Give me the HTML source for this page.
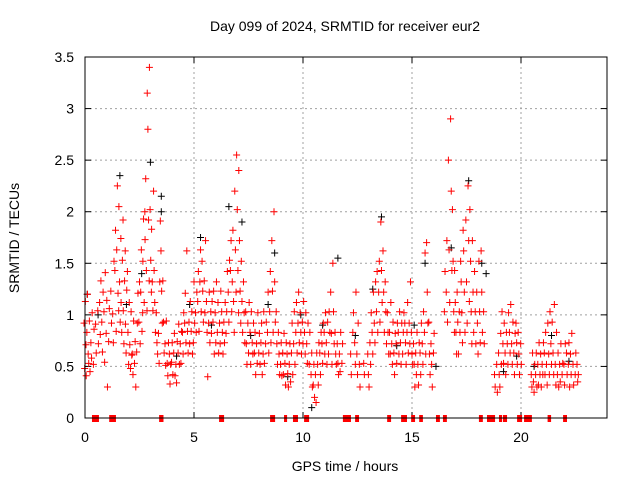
<!DOCTYPE html>
<html><head><meta charset="utf-8"><style>
body{margin:0;background:#fff}
svg{display:block;font-family:"Liberation Sans",sans-serif}
</style></head><body>
<svg id="chart" width="640" height="480" viewBox="0 0 640 480" xmlns="http://www.w3.org/2000/svg">
<rect width="640" height="480" fill="#fff"/>
<text x="345" y="31" font-size="14" text-anchor="middle">Day 099 of 2024, SRMTID for receiver eur2</text>
<text x="345" y="471" font-size="14" text-anchor="middle">GPS time / hours</text>
<text transform="translate(19,238) rotate(-90)" font-size="14" text-anchor="middle">SRMTID / TECUs</text>
<g id="grid"></g>
<g id="ticks"></g>
<g id="black-series"></g>
<g id="red-series"></g>
<g id="gaps"></g>
<rect x="85" y="57" width="522" height="361" fill="none" stroke="#000" stroke-width="1"/>
</svg>
<script>
const xTicks=[0,5,10,15,20];
const yTicks=[0,0.5,1,1.5,2,2.5,3,3.5];
const yTickLabels=["0","0.5","1","1.5","2","2.5","3","3.5"];
const redSeries=[
[0.0,[.92,.48,1.13,.71]],[0.1,[.41,.83,1.2,.62]],[0.2,[.53,.94,.45]],[0.3,[.73,.58,1.02]],[0.4,[.52,.86]],[0.5,[.91,.63]],[0.6,[1.04,.72]],[0.7,[1.12,.81,1.33]],[0.8,[.93,.64,1.22]],[0.9,[1.03,.54,1.41]],
[1.0,[.82,1.14,.3]],[1.1,[.74,1.06]],[1.2,[1.23,.92]],[1.3,[1.01,.73,1.52]],[1.4,[1.43,1.82,.84]],[1.5,[1.63,2.25,1.21,1.04]],[1.6,[2.05,1.32,.93,1.74]],[1.7,[1.12,.83,1.53,1.92]],[1.8,[1.04,.72,1.33,1.62]],[1.9,[.91,.63,1.24,1.42]],
[2.0,[.83,.52,1.12]],[2.1,[.71,.48,1.03,.61]],[2.2,[.62,.42,.94]],[2.3,[.53,.74,.3]],[2.4,[.64,.92,1.21]],[2.5,[.93,1.32,.72]],[2.6,[1.22,1.63,.84,1.02]],[2.7,[1.52,1.93,1.12,2.0]],[2.8,[1.73,2.32,1.43,1.04]],[2.9,[3.15,2.8,1.92,1.33]],
[3.0,[3.4,2.02,1.53,1.22]],[3.1,[1.83,1.32,1.04,2.2]],[3.2,[1.43,1.12,.83]],[3.3,[1.02,.73,.62]],[3.4,[.82,.53,1.32]],[3.5,[1.91,1.62,1.23,.92]],[3.6,[1.33,.93,.63]],[3.7,[.72,.51,.94]],[3.8,[.53,.41,.73]],[3.9,[.62,.33,.52]],
[4.0,[.54,.73,.42]],[4.1,[.63,.82,.41]],[4.2,[.52,.34,.74]],[4.3,[.63,.91,.52]],[4.4,[.72,.53,.84]],[4.5,[.83,.62,1.02]],[4.6,[.92,1.21,.73]],[4.7,[1.62,.84,.63]],[4.8,[.93,.72,1.13]],[4.9,[.84,1.03,.62]],
[5.0,[.73,1.32,.92]],[5.1,[1.02,.83,1.22]],[5.2,[1.13,1.42,.84]],[5.3,[1.32,1.63,1.03]],[5.4,[1.52,1.23,.93]],[5.5,[1.33,1.02,1.72]],[5.6,[1.13,.83,.4]],[5.7,[.92,1.22,.73]],[5.8,[1.03,.82,1.13]],[5.9,[.93,1.23,.62]],
[6.0,[1.02,.73,1.32]],[6.1,[.83,1.12,.63]],[6.2,[.92,.72,1.23]],[6.3,[1.03,.83,.62]],[6.4,[.93,.73,1.12]],[6.5,[.82,1.03,1.42]],[6.6,[1.22,.93,1.53]],[6.7,[1.43,1.72,1.03]],[6.8,[1.32,1.82,1.13,.83]],[6.9,[2.2,1.63,1.22]],
[7.0,[2.55,2.02,1.43,1.02]],[7.1,[2.4,1.72,1.23,.92]],[7.2,[1.52,1.13,.83]],[7.3,[1.32,1.02,.73]],[7.4,[1.03,.72,.52]],[7.5,[.92,.63,1.12]],[7.6,[.83,.52,1.03]],[7.7,[.73,.62,.92]],[7.8,[.63,.83,.42]],[7.9,[.72,.53,1.02]],
[8.0,[.63,.82,.52]],[8.1,[.73,.92,.42]],[8.2,[.62,1.03,.53]],[8.3,[.72,.93]],[8.4,[.83,1.22,.63]],[8.5,[1.03,1.42,.73]],[8.6,[1.72,1.23,.83]],[8.7,[2.0,1.32,.93]],[8.8,[1.03,.72,.52]],[8.9,[.83,.62,.42]],
[9.0,[.52,.73,.41]],[9.1,[.63,.42,.82]],[9.2,[.53,.32,.73]],[9.3,[.62,.43,.3]],[9.4,[.52,.72,.35]],[9.5,[.63,.92,.42]],[9.6,[.72,1.03,.52]],[9.7,[.83,1.12,.63]],[9.8,[.92,1.22,.73]],[9.9,[1.02,.83,.62]],
[10.0,[.93,.72,1.13]],[10.1,[.83,.62,1.02]],[10.2,[.72,.53,.92]],[10.3,[.52,.83]],[10.4,[.42,.63,.3]],[10.5,[.32,.52,.2]],[10.6,[.42,.15,.63]],[10.7,[.52,.32,.73]],[10.8,[.63,.42,.83]],[10.9,[.72,.53,.92]],
[11.0,[.83,.62,1.02]],[11.1,[.73,.52,.93]],[11.2,[.62,1.03,.83]],[11.3,[1.22,.82,.52]],[11.4,[1.5,1.03,.72]],[11.5,[.83,.62,.52]],[11.6,[.72,.53,.42]],[11.7,[.62,.45,.83]],[11.8,[.53,.72]],
[12.2,[.62,.42]],[12.3,[.83,1.02]],[12.4,[.73,.52,1.22]],[12.5,[.62,.42,.92]],[12.6,[.52,.3]],[12.8,[.53,.42]],
[13.0,[.62,.42,.3]],[13.1,[.73,.52,1.02]],[13.2,[.83,.62,1.22]],[13.3,[.92,.73,1.32]],[13.4,[1.03,1.42,.83]],[13.5,[1.22,1.52,.93]],[13.6,[1.9,1.43,1.12]],[13.7,[1.62,1.22,.83]],[13.8,[1.32,1.03,.72]],[13.9,[1.02,.83,.62]],
[14.0,[.83,.62,1.12]],[14.1,[.72,.52,.93]],[14.2,[.63,.42,.82]],[14.3,[.72,.53,.92]],[14.4,[.83,.62,1.03]],[14.5,[.73,.52,.92]],[14.6,[.62,.83,1.02]],[14.7,[.92,.73,.52]],[14.8,[.83,1.12,.63]],[14.9,[.92,.72,1.32]],
[15.0,[.83,.62,.52]],[15.1,[.72,.52,.3]],[15.2,[.63,.42,.83]],[15.3,[.52,.32,.73]],[15.4,[.63,.42,.92]],[15.5,[.72,.52,1.03]],[15.6,[.83,1.6,.62]],[15.7,[1.7,1.22,.92]],[15.8,[.93,.62,.42]],[15.9,[.72,.52,.3]],[16.0,[.63,.82]],
[16.5,[1.03,1.42]],[16.6,[1.22,1.72,.93]],[16.7,[2.5,1.63,1.12]],[16.8,[2.9,2.2,1.43]],[16.9,[2.02,1.52,1.03,.83]],[17.0,[1.43,1.12,.83,.62]],[17.1,[1.22,.93,.62]],[17.2,[1.03,.83,1.52]],[17.3,[1.32,1.02,.73,1.82]],[17.4,[1.62,1.22,.83]],
[17.5,[1.92,1.32,.92]],[17.6,[2.25,1.72,1.13]],[17.7,[2.02,1.52,1.03,.72]],[17.8,[1.72,1.22,.83]],[17.9,[1.42,1.03,.72]],[18.0,[1.22,.92,.62]],[18.1,[1.52,1.03,.73]],[18.2,[1.62,1.22,.83]],[18.3,[1.03,.72]],
[18.8,[.42,.3]],[18.9,[.52,.25]],[19.0,[.63,.42,.3]],[19.1,[.82,.52,1.03]],[19.2,[.72,.53,.92]],[19.3,[.63,.42,.83]],[19.4,[.72,.52,1.02]],[19.5,[.83,.63,1.1]],[19.6,[.72,.52,.93]],[19.7,[.63,.42,.82]],[19.8,[.92,.73,.52]],[19.9,[.83,.62,.42]],[20.0,[.72,.52]],
[20.5,[.42,.3,.63]],[20.6,[.35,.25,.52]],[20.7,[.42,.63,.3]],[20.8,[.52,.32,.73]],[20.9,[.42,.62,.3]],[21.0,[.52,.42,.73]],[21.1,[.63,.42,.83]],[21.2,[.52,.32,.92]],[21.3,[.62,.42,1.03]],[21.4,[.72,.52,.93]],
[21.5,[.63,.42,1.1]],[21.6,[.52,.32,.83]],[21.7,[.42,.63,.3]],[21.8,[.52,.35,.72]],[21.9,[.42,.53]],[22.0,[.52,.32,.72]],[22.1,[.63,.42]],[22.2,[.52,.73,.3]],[22.3,[.62,.42,.82]],[22.4,[.52,.32]],[22.5,[.42,.63]],[22.6,[.52,.35,.42]]
];
const blackHours=[0.1,0.6,1.6,1.9,2.6,3.0,3.5,3.5,4.2,4.8,5.3,5.8,6.6,7.2,7.6,8.4,8.7,9.3,9.9,10.4,10.9,11.6,12.4,13.2,13.6,14.3,15.1,15.6,16.1,16.8,17.6,18.2,18.4,19.2,19.8,20.6,21.4,22.2];
const blackValues=[1.2,1.0,2.35,1.1,1.4,2.48,2.15,2.0,.6,1.1,1.75,.9,2.05,1.9,.8,1.1,1.6,.4,1.0,.1,.9,1.55,.8,1.25,1.95,.7,.9,1.5,.5,1.65,2.3,1.5,1.4,.45,.6,.5,.8,.55];
const gapStarts=[0.32,1.11,3.4,6.15,8.49,9.13,9.54,10.05,11.83,12.39,13.86,14.5,14.96,15.33,16.1,16.42,18.07,18.44,18.99,19.17,19.82,20.14,21.22,21.93];
const gapEnds=[0.64,1.42,3.6,6.38,8.72,9.27,9.77,10.28,12.2,12.57,14.04,14.77,15.14,15.5,16.28,16.6,18.25,18.81,19.13,19.36,20.05,20.5,21.38,22.11];

const NS="http://www.w3.org/2000/svg";
const X=h=>85+h*21.8;
const Y=v=>418-v*103.14;
function mk(tag,attrs,parent){const e=document.createElementNS(NS,tag);for(const k in attrs)e.setAttribute(k,attrs[k]);parent.appendChild(e);return e;}
const grid=document.getElementById('grid'),ticks=document.getElementById('ticks');
xTicks.forEach(t=>{
  if(t>0){const g=mk('line',{x1:X(t),x2:X(t),y1:57,y2:418,stroke:'#a0a0a0','stroke-dasharray':'2,3'},grid);
  
  }
  mk('line',{x1:X(t),x2:X(t),y1:418,y2:412,stroke:'#000'},ticks);
  mk('line',{x1:X(t),x2:X(t),y1:57,y2:63,stroke:'#000'},ticks);
  const l=mk('text',{x:X(t),y:442,'font-size':14,'text-anchor':'middle'},ticks);l.textContent=t;
  
  
});
yTicks.forEach((t,i)=>{
  if(t>0&&t<3.5){const g=mk('line',{x1:85,x2:607,y1:Y(t),y2:Y(t),stroke:'#a0a0a0','stroke-dasharray':'2,3'},grid);
  
  }
  mk('line',{x1:85,x2:91,y1:Y(t),y2:Y(t),stroke:'#000'},ticks);
  mk('line',{x1:601,x2:607,y1:Y(t),y2:Y(t),stroke:'#000'},ticks);
  const l=mk('text',{x:74,y:Y(t)+5,'font-size':14,'text-anchor':'end'},ticks);l.textContent=yTickLabels[i];
  
  
});
function plus(x,y,col,parent,name){
  const p=mk('path',{d:`M${x-3.5},${y}h7M${x},${y-3.5}v7`,stroke:col,'stroke-width':1,fill:'none'},parent);
  
  
}
const bs=document.getElementById('black-series');
blackHours.forEach((h,i)=>plus(X(h),Y(blackValues[i]),'#000',bs,'black-point'));
const rs=document.getElementById('red-series');
redSeries.forEach(([h,vals])=>vals.forEach((v,j)=>plus(X(h+(j-(vals.length-1)/2)*0.03),Y(v),'#ff0000',rs,'red-point')));
const gp=document.getElementById('gaps');
gapStarts.forEach((s,i)=>{
  const r=mk('rect',{x:X(s),y:415,width:Math.max(2,X(gapEnds[i])-X(s)),height:7,fill:'#ff0000'},gp);
  
  
});
</script>
</body></html>
